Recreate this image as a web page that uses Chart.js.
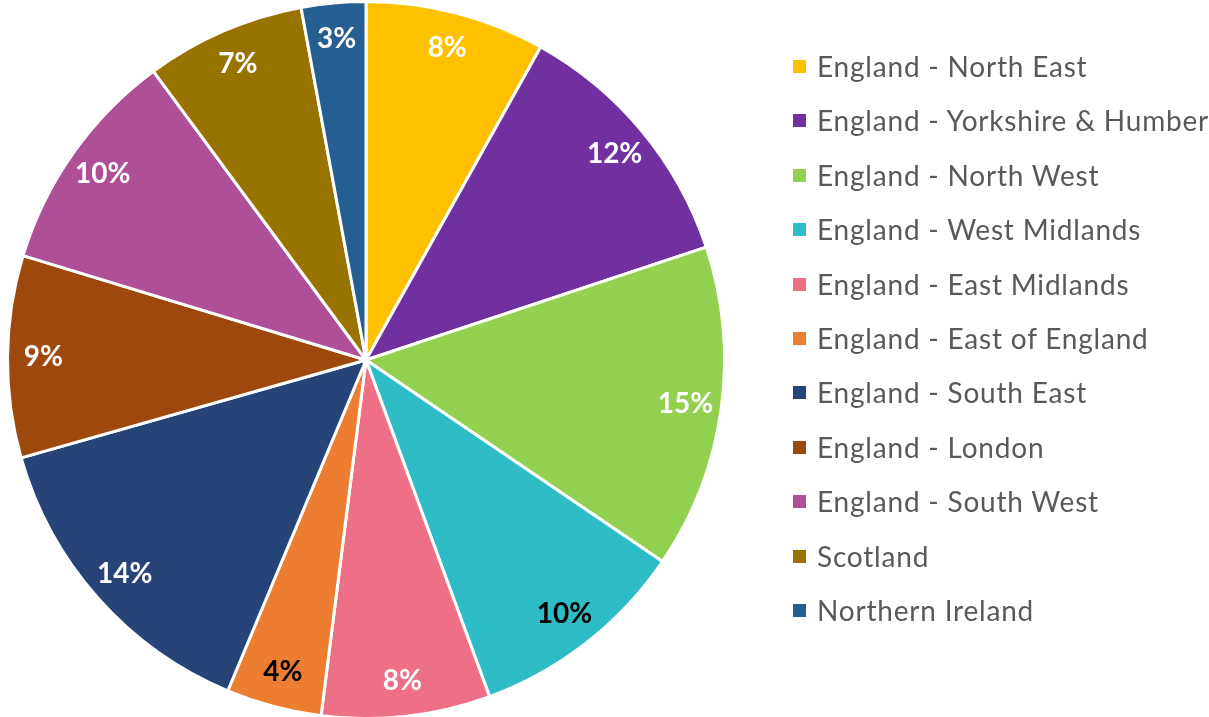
<!DOCTYPE html>
<html>
<head>
<meta charset="utf-8">
<script src="https://cdn.jsdelivr.net/npm/chart.js@4"></script>
<style>
body{margin:0;background:#fff;}
#wrap{position:relative;width:1209px;height:717px;}
#legend{position:absolute;left:793px;top:0;font-family:Lato,sans-serif;font-size:28px;letter-spacing:0.8px;color:#595959;}
.item{position:absolute;left:0;white-space:nowrap;height:30px;line-height:30px;}
.box{position:absolute;left:0;top:9px;width:13px;height:13px;}
.txt{position:absolute;left:24px;top:0;}
</style>
</head>
<body>
<div id="wrap">
<canvas id="pieChart" width="1209" height="717"></canvas>
<div id="legend"></div>
</div>
<script>

const regions=['England - North East','England - Yorkshire & Humber','England - North West','England - West Midlands','England - East Midlands','England - East of England','England - South East','England - London','England - South West','Scotland','Northern Ireland'];

const shares=[8.1,11.8,14.6,9.9,7.6,4.3,14.3,9.1,10.2,7.2,2.9];

const colours=['#FFC000','#7030A0','#92D050','#2EBDC6','#EE7087','#ED7D31','#264478','#9E480E','#AE4F97','#997300','#255E91'];

const labelColours=['#fff','#fff','#fff','#000','#fff','#000','#fff','#fff','#fff','#fff','#fff'];


/* percent labels on slices */

const sliceLabels={
id:'sliceLabels',
afterDatasetsDraw(chart){
const c=chart.ctx;
const meta=chart.getDatasetMeta(0);
const total=shares.reduce((a,b)=>a+b,0);
c.save();
c.font='bold 28px Lato, sans-serif';
c.textAlign='center';
c.textBaseline='middle';
meta.data.forEach((arc,i)=>{
const p=arc.getProps(['x','y','startAngle','endAngle','outerRadius']);
const mid=(p.startAngle+p.endAngle)/2;
const r=p.outerRadius*0.9;
c.fillStyle=labelColours[i];
c.fillText(Math.round(shares[i]/total*100)+'%',p.x+Math.cos(mid)*r,p.y+Math.sin(mid)*r);
});
c.restore();
}
};

const chart=new Chart(document.getElementById('pieChart'),{
type:'pie',
data:{
labels:regions,
datasets:[{
data:shares,
backgroundColor:colours,
borderColor:'#fff',
borderWidth:3
}]
},
options:{
responsive:false,
animation:false,
radius:358.5,
layout:{padding:{top:3,left:0,right:477,bottom:0}},
plugins:{legend:{display:false},tooltip:{enabled:false}}
},
plugins:[sliceLabels]
});


/* legend built from the chart's own items */

const legendEl=document.getElementById('legend');
chart.options.plugins.legend.labels.generateLabels(chart).forEach((item,i)=>{
const row=document.createElement('div');
row.className='item';
row.style.top=(66+i*54.4-15)+'px';
row.innerHTML='<span class="box" style="background:'+item.fillStyle+'"></span><span class="txt"></span>';
row.querySelector('.txt').textContent=item.text;
legendEl.appendChild(row);
});

</script>
</body>
</html>
